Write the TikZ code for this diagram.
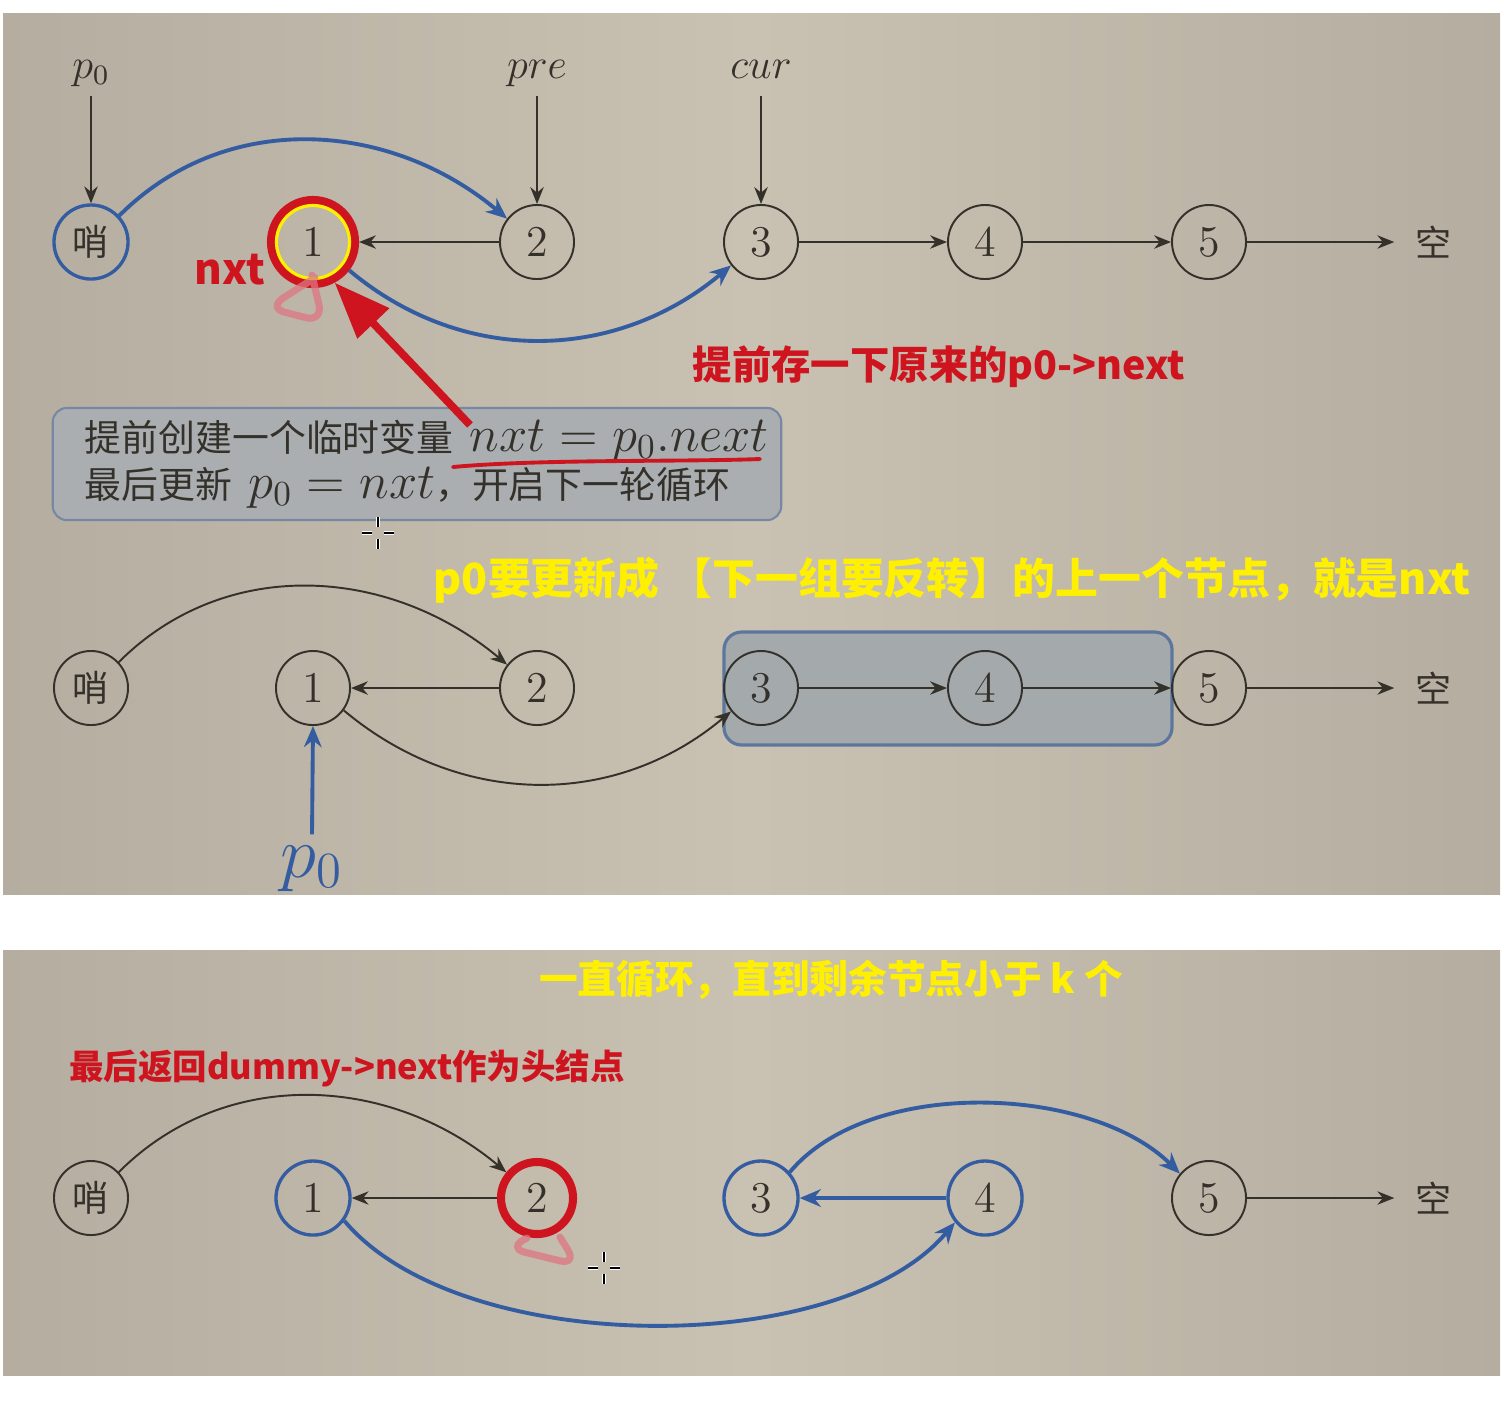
\documentclass[tikz,border=0pt]{standalone}
\usepackage{fontspec}
\usetikzlibrary{arrows.meta}
\newfontfamily\cjk{Noto Sans CJK SC}[Scale=0.82]
\newfontfamily\cjkbox{Noto Sans CJK SC}[Scale=0.76]
\newfontfamily\anno{Noto Sans CJK SC}
\definecolor{bgl}{RGB}{201,193,177}
\definecolor{bgd}{RGB}{181,173,160}
\definecolor{ink}{RGB}{52,48,42}
\definecolor{lblue}{RGB}{52,92,160}
\definecolor{hred}{RGB}{206,20,30}
\definecolor{hylw}{RGB}{255,240,0}
\definecolor{tipfill}{RGB}{170,174,177}
\definecolor{tipline}{RGB}{118,136,162}
\definecolor{grpfill}{RGB}{164,170,172}
\definecolor{grpline}{RGB}{92,118,158}
\definecolor{pinkpen}{RGB}{222,118,130}
\begin{document}
\begin{tikzpicture}[x=0.01cm,y=0.01cm,
  nd/.style={circle,draw=ink,line width=0.55pt,minimum size=0.74cm,inner sep=0pt,text=ink,font=\fontsize{12.5}{14}\selectfont},
  bnd/.style={nd,draw=lblue,line width=0.95pt},
  nil/.style={minimum width=0.76cm,minimum height=0.74cm,inner sep=0pt,text=ink,font=\fontsize{12.5}{14}\selectfont\cjk},
  ptr/.style={anchor=base,text=ink,font=\fontsize{12}{14}\selectfont,text depth=3pt,inner ysep=2pt},
  lnk/.style={draw=ink,line width=0.55pt,-{Stealth[length=4.8pt,width=3.8pt]}},
  blnk/.style={draw=lblue,line width=1.1pt,-{Stealth[length=6pt,width=5pt]}},
  bigarr/.style={draw=hred,line width=2.2pt,-{Triangle[length=16pt,width=12pt]}},
  redring/.style={circle,draw=hred,line width=2.3pt,inner sep=0pt},
  ylwring/.style={circle,draw=hylw,line width=0.9pt,minimum size=0.73cm,inner sep=0pt},
  redtxt/.style={text=hred,inner sep=0pt,font=\anno\bfseries\fontsize{11.2}{13}\selectfont},
  ylwtxt/.style={text=hylw,inner sep=0pt,font=\anno\bfseries\fontsize{12.2}{14}\selectfont},
  tipbox/.style={draw=tipline,fill=tipfill,line width=0.6pt,rounded corners=4pt,text width=6.64cm,align=left,inner xsep=0.32cm,minimum height=1.12cm,text=ink,font=\fontsize{13.8}{13.4}\selectfont},
  grpbox/.style={draw=grpline,fill=grpfill,line width=0.9pt,rounded corners=5pt},
  scrib/.style={draw=pinkpen,opacity=0.75,line width=2pt,line cap=round,line join=round,rounded corners=5pt},
  redpen/.style={draw=hred,line width=1.1pt,line cap=round}]
\useasboundingbox (0,0) rectangle (1504,-1402);
% panels
\shade[left color=bgd,right color=bgd,middle color=bgl] (3,-13) rectangle (1500,-894);
\shade[left color=bgd,right color=bgd,middle color=bgl] (3,-950) rectangle (1500,-1375);
% row 1: before the group
\node[bnd] (s1) at (91,-242) {\cjk 哨};
\foreach \i/\x in {1/313,2/537,3/761,4/985,5/1209} \node[nd] (a\i) at (\x,-242) {\i};
\node[nil] (z1) at (1433,-242) {空};
\foreach \n/\lb/\x in {lp/p_0/91,lq/pre/537,lc/cur/761} \node[ptr] (\n) at (\x,-78) {$\lb$};
\foreach \n/\m in {lp/s1,lq/a2,lc/a3} \draw[lnk] (\n.south) -- (\m.north);
\node[redring,minimum size=0.84cm] (r1) at (a1) {};
\node[ylwring] (y1) at (a1) {};
\draw[lnk] (a2.west) -- (r1.east);
\foreach \i/\j in {3/4,4/5} \draw[lnk] (a\i.east) -- (a\j.west);
\draw[lnk] (a5.east) -- (z1.west);
\draw[blnk] (s1.43) to[out=45,in=140] (a2.142);
\draw[blnk] (r1.-38) to[out=-40,in=-140] (a3.-142);
% nxt mark
\node[redtxt,font=\anno\bfseries\fontsize{12}{14}\selectfont] (nx) at (230,-270) {nxt};
\draw[scrib] (312,-275) -- (323,-322) -- (268,-308) -- (300,-287) -- (313,-279);
\node[redtxt] (t1) at (939,-367) {提前存一下原来的p0->next};
% tip box
\node[tipbox] (tip) at (417,-464) {\mbox{{\cjkbox 提前创建一个临时变量} $nxt=p_0.next$}\\\mbox{{\cjkbox 最后更新} $p_0=nxt${\cjkbox ，开启下一轮循环}}};
\coordinate (tail) at (470,-425);
\draw[bigarr] (tail) -- (r1.-62);
\draw[redpen] (453,-467) .. controls (540,-459) and (680,-462) .. (760,-459);
\node[ylwtxt] (t2) at (952,-580) {p0要更新成 【下一组要反转】的上一个节点，就是nxt};
% row 2: after the group
\draw[grpbox] (724,-632) rectangle (1172,-745);
\node[nd] (s2) at (91,-688) {\cjk 哨};
\foreach \i/\x in {1/313,2/537,3/761,4/985,5/1209} \node[nd] (b\i) at (\x,-688) {\i};
\node[nil] (z2) at (1433,-688) {空};
\draw[lnk] (s2.43) to[out=45,in=140] (b2.142);
\draw[lnk] (b2.west) -- (b1.east);
\draw[lnk] (b1.-36) to[out=-40,in=-140] (b3.-142);
\foreach \i/\j in {3/4,4/5} \draw[lnk] (b\i.east) -- (b\j.west);
\draw[lnk] (b5.east) -- (z2.west);
\node[anchor=base,text=lblue,inner xsep=0pt,inner ysep=3pt,font=\fontsize{20}{22}\selectfont] (q0) at (312,-877) {$p_0$};
\draw[blnk] (q0.north) -- (b1.south);
% row 3: loop done
\node[ylwtxt,font=\anno\bfseries\fontsize{11}{13}\selectfont] (t3) at (831,-980) {一直循环，直到剩余节点小于 k 个};
\node[redtxt,font=\anno\bfseries\fontsize{9.8}{12}\selectfont] (t4) at (347,-1068) {最后返回dummy->next作为头结点};
\node[nd] (s3) at (91,-1198) {\cjk 哨};
\node[bnd] (c1) at (313,-1198) {1};
\node[nd] (c2) at (537,-1198) {2};
\node[bnd] (c3) at (761,-1198) {3};
\node[bnd] (c4) at (985,-1198) {4};
\node[nd] (c5) at (1209,-1198) {5};
\node[nil] (z3) at (1433,-1198) {空};
\node[redring,minimum size=0.72cm] (r2) at (c2) {};
\draw[lnk] (s3.43) to[out=45,in=140] (r2.140);
\draw[lnk] (r2.west) -- (c1.east);
\draw[blnk] (c4.west) -- (c3.east);
\draw[blnk] (c1.-36) to[out=-50,in=-130,looseness=0.75] (c4.-141);
\draw[blnk] (c3.42) to[out=50,in=135,looseness=0.82] (c5.140);
\draw[lnk] (c5.east) -- (z3.west);
\draw[scrib] (560,-1237) -- (577,-1265) -- (508,-1248) -- (527,-1238);
% cursors
\foreach \cx/\cy in {378/-533,604/-1268} {
  \draw[white,line width=1.4pt] (\cx,\cy+6) -- (\cx,\cy+16) (\cx,\cy-6) -- (\cx,\cy-16) (\cx-6,\cy) -- (\cx-16,\cy) (\cx+6,\cy) -- (\cx+16,\cy);
  \draw[black,line width=0.5pt] (\cx,\cy+6) -- (\cx,\cy+16) (\cx,\cy-6) -- (\cx,\cy-16) (\cx-6,\cy) -- (\cx-16,\cy) (\cx+6,\cy) -- (\cx+16,\cy);
}
\end{tikzpicture}
\end{document}
